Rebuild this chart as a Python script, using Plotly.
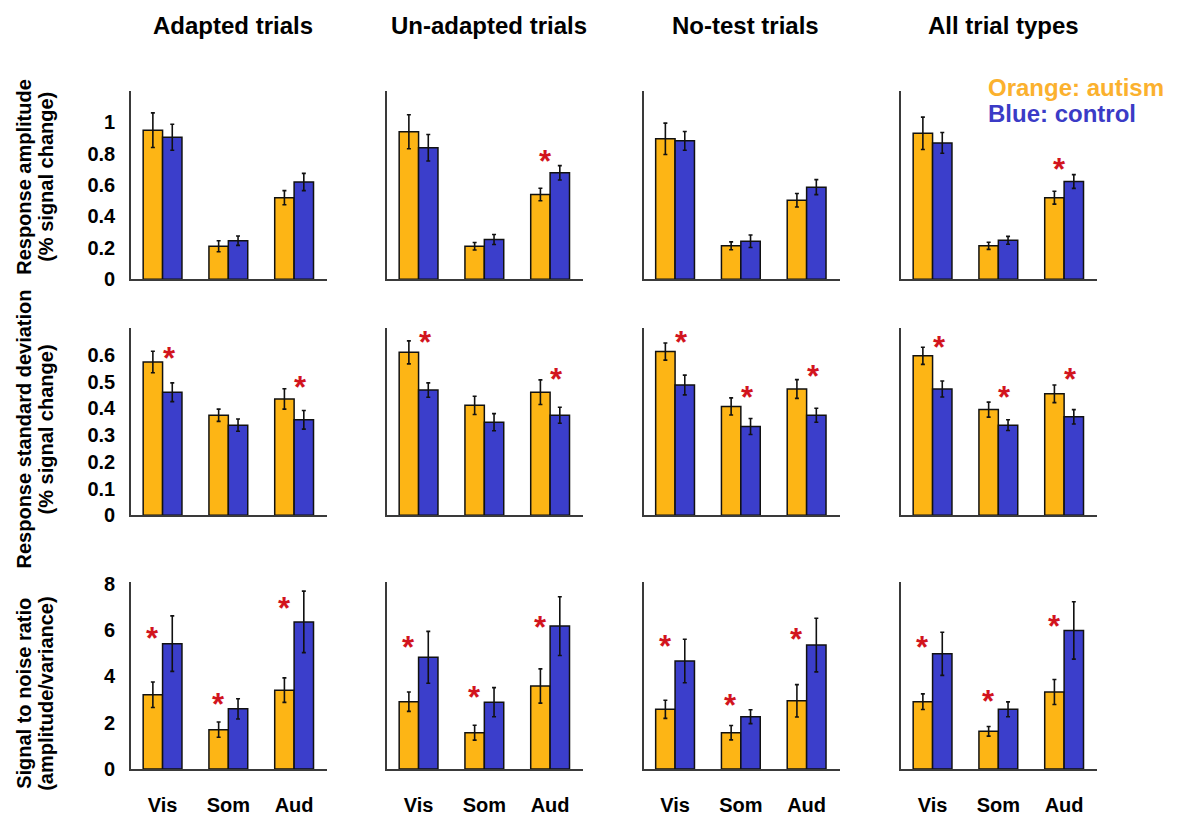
import plotly.graph_objects as go
from plotly.subplots import make_subplots

# ---- data -----------------------------------------------------------------
regions = ["Vis", "Som", "Aud"]
conditions = ["Adapted trials", "Un-adapted trials", "No-test trials", "All trial types"]

# one row per condition, one value per region (Vis, Som, Aud)
amp_autism = [[0.95, 0.21, 0.52], [0.94, 0.21, 0.54], [0.895, 0.213, 0.503], [0.93, 0.213, 0.52]]
amp_autism_err = [[0.11, 0.035, 0.045], [0.108, 0.024, 0.04], [0.10, 0.025, 0.043], [0.103, 0.023, 0.041]]
amp_control = [[0.905, 0.246, 0.62], [0.838, 0.253, 0.678], [0.882, 0.242, 0.587], [0.869, 0.248, 0.623]]
amp_control_err = [[0.083, 0.03, 0.055], [0.084, 0.032, 0.046], [0.06, 0.04, 0.048], [0.066, 0.025, 0.044]]
amp_stars = [[None, None, None], [None, None, 0.79], [None, None, None], [None, None, 0.74]]

sd_autism = [[0.573, 0.374, 0.435], [0.609, 0.411, 0.46], [0.612, 0.407, 0.472], [0.596, 0.395, 0.454]]
sd_autism_err = [[0.04, 0.023, 0.038], [0.043, 0.034, 0.046], [0.032, 0.032, 0.035], [0.032, 0.028, 0.033]]
sd_control = [[0.46, 0.337, 0.357], [0.468, 0.348, 0.374], [0.487, 0.332, 0.374], [0.472, 0.337, 0.368]]
sd_control_err = [[0.035, 0.023, 0.035], [0.027, 0.032, 0.03], [0.037, 0.03, 0.026], [0.03, 0.02, 0.027]]
sd_stars = [[0.61, None, 0.50], [0.667, None, 0.53], [0.67, 0.462, 0.541], [0.651, 0.462, 0.53]]

snr_autism = [[3.21, 1.70, 3.41], [2.91, 1.57, 3.59], [2.58, 1.57, 2.95], [2.91, 1.63, 3.33]]
snr_autism_err = [[0.55, 0.33, 0.53], [0.42, 0.32, 0.74], [0.39, 0.31, 0.70], [0.34, 0.21, 0.54]]
snr_control = [[5.42, 2.60, 6.36], [4.83, 2.89, 6.18], [4.67, 2.26, 5.36], [4.98, 2.58, 5.99]]
snr_control_err = [[1.2, 0.44, 1.33], [1.12, 0.63, 1.27], [0.94, 0.30, 1.16], [0.93, 0.32, 1.24]]
snr_stars = [[5.9, 3.05, 7.19], [5.53, 3.33, 6.39], [5.57, 3.0, 5.85], [5.5, 3.19, 6.41]]

amp_ticks = [0, 0.2, 0.4, 0.6, 0.8, 1]
sd_ticks = [0, 0.1, 0.2, 0.3, 0.4, 0.5, 0.6]
snr_ticks = [0, 2, 4, 6, 8]

# ---- styling ----------------------------------------------------------------
W, H = 1183, 819
FONT = "Liberation Sans, Arial, Helvetica, sans-serif"
ORANGE = "#FDB515"
BLUE = "#3B3ECB"
RED = "#D2141E"
AXIS = "#3a3a3a"

measures = [
    dict(a=amp_autism, ae=amp_autism_err, b=amp_control, be=amp_control_err, stars=amp_stars,
         yrange=[0, 1.2], ticks=amp_ticks, star_dx=-0.07,
         title=["Response amplitude", "(% signal change)"], title_y=172),
    dict(a=sd_autism, ae=sd_autism_err, b=sd_control, be=sd_control_err, stars=sd_stars,
         yrange=[0, 0.7], ticks=sd_ticks, star_dx=0.1,
         title=["Response standard deviation", "(% signal change)"], title_y=431),
    dict(a=snr_autism, ae=snr_autism_err, b=snr_control, be=snr_control_err, stars=snr_stars,
         yrange=[0, 8.1], ticks=snr_ticks, star_dx=-0.15,
         title=["Signal to noise ratio", "(amplitude/variance)"], title_y=702),
]

# pixel layout of the panels
col_left = [131, 387, 643.5, 901]
panel_w = 196
row_px = [(84, 277), (327, 519), (587, 779)]

xpos = [1, 2, 3]

fig = make_subplots(rows=3, cols=4)
annotations = []

for r, m in enumerate(measures):
    for c in range(4):
        n = r * 4 + c + 1
        sfx = "" if n == 1 else str(n)
        for vals, errs, color in ((m["a"][c], m["ae"][c], ORANGE), (m["b"][c], m["be"][c], BLUE)):
            fig.add_trace(go.Bar(
                x=xpos, y=vals,
                marker=dict(color=color, line=dict(color="#111111", width=1.5)),
                error_y=dict(type="data", array=errs, color="#111111", thickness=1.6, width=2),
                showlegend=False, hoverinfo="skip",
            ), row=r + 1, col=c + 1)

        top, bottom = row_px[r]
        fig.layout["xaxis" + sfx].update(
            domain=[col_left[c] / W, (col_left[c] + panel_w) / W],
            range=[0.52, 3.5], showgrid=False, zeroline=False,
            showline=True, linecolor=AXIS, linewidth=1.6,
            tickvals=xpos, ticktext=regions, showticklabels=(r == 2),
            ticks="outside", ticklen=17, tickcolor="rgba(0,0,0,0)",
            tickfont=dict(family=FONT, size=20, color="black", weight="bold"),
            fixedrange=True,
        )
        fig.layout["yaxis" + sfx].update(
            domain=[1 - bottom / H, 1 - top / H],
            range=m["yrange"], showgrid=False, zeroline=False,
            showline=True, linecolor=AXIS, linewidth=1.6,
            tickvals=m["ticks"], ticktext=[f"{t:g}" for t in m["ticks"]],
            showticklabels=(c == 0),
            ticks="outside", ticklen=10, tickcolor="rgba(0,0,0,0)",
            tickfont=dict(family=FONT, size=20, color="black", weight="bold"),
            fixedrange=True,
        )

        # significance markers
        for k, s in enumerate(m["stars"][c]):
            if s is None:
                continue
            annotations.append(dict(
                x=xpos[k] + m["star_dx"], y=s, xref="x" + sfx, yref="y" + sfx,
                text="*", showarrow=False, yshift=-6,
                font=dict(family=FONT, size=31, color=RED, weight="bold"),
            ))

    # row titles (two lines, rotated)
    for i, line in enumerate(m["title"]):
        annotations.append(dict(
            x=(24 + 22 * i) / W, y=1 - m["title_y"] / H, xref="paper", yref="paper",
            text=line, textangle=-90, showarrow=False,
            xanchor="center", yanchor="middle",
            font=dict(family=FONT, size=20, color="black", weight="bold"),
        ))

# column titles
for c, name in enumerate(conditions):
    annotations.append(dict(
        x=(col_left[c] + panel_w / 2 + 4) / W, y=1 - 17 / H, xref="paper", yref="paper",
        text=name, showarrow=False, xanchor="center", yanchor="middle",
        font=dict(family=FONT, size=24, color="black", weight="bold"),
    ))

# colour key
annotations.append(dict(x=986 / W, y=1 - 80 / H, xref="paper", yref="paper",
                        text="Orange: autism", showarrow=False, xanchor="left", yanchor="middle",
                        font=dict(family=FONT, size=24, color="#FBB12E", weight="bold")))
annotations.append(dict(x=986 / W, y=1 - 107 / H, xref="paper", yref="paper",
                        text="Blue: control", showarrow=False, xanchor="left", yanchor="middle",
                        font=dict(family=FONT, size=24, color="#3B3BC6", weight="bold")))

fig.update_layout(
    width=W, height=H,
    margin=dict(l=0, r=0, t=0, b=0),
    paper_bgcolor="white", plot_bgcolor="white",
    barmode="group", bargap=0.41, bargroupgap=0,
    annotations=annotations,
    font=dict(family=FONT),
)

fig.write_html("out.html", config={"displayModeBar": False})
